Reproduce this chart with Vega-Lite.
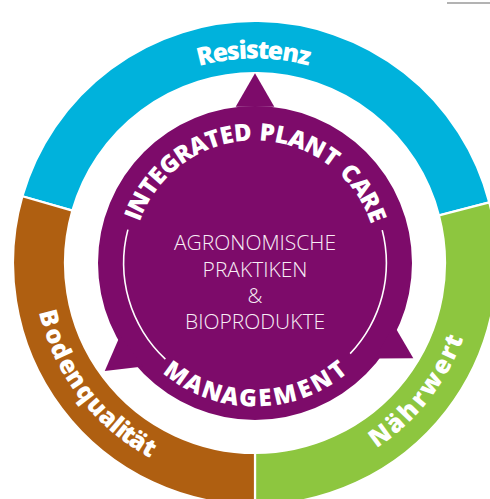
{
  "$schema": "https://vega.github.io/schema/vega-lite/v6.json",
  "width": 470,
  "height": 472,
  "autosize": "none",
  "padding": {"left": 20, "top": 27, "right": 0, "bottom": 0},
  "background": "white",
  "config": {"view": {"stroke": null}},
  "datasets": {
    "ring": [
      {"seg": "Resistenz", "t0": -74, "t1": 75.5},
      {"seg": "Nährwert", "t0": 75.5, "t1": 180},
      {"seg": "Bodenqualität", "t0": 180, "t1": 286}
    ],
    "core": [{"name": "Integrated Plant Care Management", "t0": 0, "t1": 360}],
    "guides": [{"side": "left", "t0": 223, "t1": 284.7}, {"side": "right", "t0": 75.5, "t1": 133.6}],
    "arrows": [
      {"pos": "top", "x": 0, "y": 173, "rot": 0},
      {"pos": "left", "x": -136.8, "y": -98, "rot": 233.4},
      {"pos": "right", "x": 143.8, "y": -87, "rot": 119.7}
    ],
    "topWord": [
      {"ch": "I", "t": -68.5}, {"ch": "N", "t": -62.4}, {"ch": "T", "t": -54.3}, {"ch": "E", "t": -48.2},
      {"ch": "G", "t": -40.9}, {"ch": "R", "t": -33.2}, {"ch": "A", "t": -25.8}, {"ch": "T", "t": -18.8},
      {"ch": "E", "t": -12.5}, {"ch": "D", "t": -5.4}, {"ch": "P", "t": 5.4}, {"ch": "L", "t": 12.1},
      {"ch": "A", "t": 19.1}, {"ch": "N", "t": 27.4}, {"ch": "T", "t": 35.7}, {"ch": "C", "t": 46.7},
      {"ch": "A", "t": 54.5}, {"ch": "R", "t": 61.7}, {"ch": "E", "t": 68.5}
    ],
    "bottomWord": [
      {"ch": "M", "t": 215.6}, {"ch": "A", "t": 206.8}, {"ch": "N", "t": 198.5}, {"ch": "A", "t": 190.6},
      {"ch": "G", "t": 183}, {"ch": "E", "t": 175.8}, {"ch": "M", "t": 167.2}, {"ch": "E", "t": 158.5},
      {"ch": "N", "t": 150.6}, {"ch": "T", "t": 142.3}
    ],
    "resistenz": [
      {"ch": "R", "t": -13.5}, {"ch": "e", "t": -9.4}, {"ch": "s", "t": -5.9}, {"ch": "i", "t": -3.3},
      {"ch": "s", "t": -0.7}, {"ch": "t", "t": 2.3}, {"ch": "e", "t": 5.5}, {"ch": "n", "t": 9.7}, {"ch": "z", "t": 13.5}
    ],
    "lowerLabels": [
      {"ch": "B", "t": 255}, {"ch": "o", "t": 250}, {"ch": "d", "t": 245.7}, {"ch": "e", "t": 241.2},
      {"ch": "n", "t": 237}, {"ch": "q", "t": 232.4}, {"ch": "u", "t": 227.8}, {"ch": "a", "t": 223.5},
      {"ch": "l", "t": 220.5}, {"ch": "i", "t": 218.5}, {"ch": "t", "t": 216.4}, {"ch": "ä", "t": 213.3},
      {"ch": "t", "t": 209.7},
      {"ch": "N", "t": 144.1}, {"ch": "ä", "t": 138.9}, {"ch": "h", "t": 134}, {"ch": "r", "t": 129.6},
      {"ch": "w", "t": 124.5}, {"ch": "e", "t": 118.9}, {"ch": "r", "t": 114.8}, {"ch": "t", "t": 111.4}
    ],
    "centerText": [
      {"line": "AGRONOMISCHE", "x": 0, "y": 13},
      {"line": "PRAKTIKEN", "x": 0, "y": -13.5},
      {"line": "&", "x": 0, "y": -40},
      {"line": "BIOPRODUKTE", "x": 0, "y": -66}
    ],
    "corner": [{"x": 192, "x2": 235, "y": 260}]
  },
  "resolve": {"scale": {"angle": "independent"}},
  "layer": [
    {
      "data": {"name": "ring"},
      "mark": {"type": "arc", "radius": 242, "radius2": 190, "stroke": "white", "strokeWidth": 2.2},
      "encoding": {
        "theta": {"field": "t0", "type": "quantitative", "scale": {"domain": [0, 360], "range": [0, 6.283185307]}},
        "theta2": {"field": "t1"},
        "color": {"field": "seg", "type": "nominal", "legend": null,
          "scale": {"domain": ["Resistenz", "Nährwert", "Bodenqualität"], "range": ["#00B2DC", "#8DC63F", "#AF5F11"]}}
      }
    },
    {
      "data": {"name": "core"},
      "mark": {"type": "arc", "radius": 157, "color": "#7D0B6A"},
      "encoding": {
        "theta": {"field": "t0", "type": "quantitative", "scale": {"domain": [0, 360], "range": [0, 6.283185307]}},
        "theta2": {"field": "t1"}
      }
    },
    {
      "data": {"name": "arrows"},
      "mark": {"type": "point", "shape": "triangle-up", "filled": true, "size": 1490, "color": "#7D0B6A", "opacity": 1},
      "encoding": {
        "x": {"field": "x", "type": "quantitative", "axis": null, "scale": {"domain": [-235, 235], "nice": false, "zero": false}},
        "y": {"field": "y", "type": "quantitative", "axis": null, "scale": {"domain": [-236, 236], "nice": false, "zero": false}},
        "angle": {"field": "rot", "type": "quantitative", "scale": {"domain": [0, 360], "range": [0, 360]}}
      }
    },
    {
      "data": {"name": "guides"},
      "mark": {"type": "arc", "radius": 132.2, "radius2": 130.6, "color": "white"},
      "encoding": {
        "theta": {"field": "t0", "type": "quantitative", "scale": {"domain": [0, 360], "range": [0, 6.283185307]}},
        "theta2": {"field": "t1"}
      }
    },
    {
      "data": {"name": "topWord"},
      "mark": {"type": "text", "radius": 122.5, "font": "Open Sans", "fontWeight": 800, "fontSize": 24, "color": "white", "align": "center", "baseline": "alphabetic"},
      "encoding": {
        "text": {"field": "ch"},
        "theta": {"field": "t", "type": "quantitative", "stack": null, "scale": {"domain": [0, 360], "range": [0, 6.283185307]}},
        "angle": {"field": "t", "type": "quantitative", "scale": {"domain": [0, 360], "range": [0, 360]}}
      }
    },
    {
      "data": {"name": "bottomWord"},
      "mark": {"type": "text", "radius": 143.5, "font": "Open Sans", "fontWeight": 800, "fontSize": 24, "color": "white", "align": "center", "baseline": "alphabetic"},
      "encoding": {
        "text": {"field": "ch"},
        "theta": {"field": "t", "type": "quantitative", "stack": null, "scale": {"domain": [0, 360], "range": [0, 6.283185307]}},
        "angle": {"field": "t", "type": "quantitative", "scale": {"domain": [180, 540], "range": [0, 360]}}
      }
    },
    {
      "data": {"name": "resistenz"},
      "mark": {"type": "text", "radius": 204.5, "font": "Open Sans", "fontWeight": 800, "fontSize": 25, "color": "white", "align": "center", "baseline": "alphabetic"},
      "encoding": {
        "text": {"field": "ch"},
        "theta": {"field": "t", "type": "quantitative", "stack": null, "scale": {"domain": [0, 360], "range": [0, 6.283185307]}},
        "angle": {"field": "t", "type": "quantitative", "scale": {"domain": [0, 360], "range": [0, 360]}}
      }
    },
    {
      "data": {"name": "lowerLabels"},
      "mark": {"type": "text", "radius": 221.5, "font": "Open Sans", "fontWeight": 800, "fontSize": 25, "color": "white", "align": "center", "baseline": "alphabetic"},
      "encoding": {
        "text": {"field": "ch"},
        "theta": {"field": "t", "type": "quantitative", "stack": null, "scale": {"domain": [0, 360], "range": [0, 6.283185307]}},
        "angle": {"field": "t", "type": "quantitative", "scale": {"domain": [180, 540], "range": [0, 360]}}
      }
    },
    {
      "data": {"name": "centerText"},
      "mark": {"type": "text", "font": "Open Sans", "fontWeight": 300, "fontSize": 21, "color": "#F8EEF6", "align": "center", "baseline": "alphabetic"},
      "encoding": {
        "text": {"field": "line"},
        "x": {"field": "x", "type": "quantitative"},
        "y": {"field": "y", "type": "quantitative"}
      }
    },
    {
      "data": {"name": "corner"},
      "mark": {"type": "rule", "color": "#9A9A9A", "strokeWidth": 1.5},
      "encoding": {
        "x": {"field": "x", "type": "quantitative"},
        "x2": {"field": "x2"},
        "y": {"field": "y", "type": "quantitative"}
      }
    }
  ]
}
